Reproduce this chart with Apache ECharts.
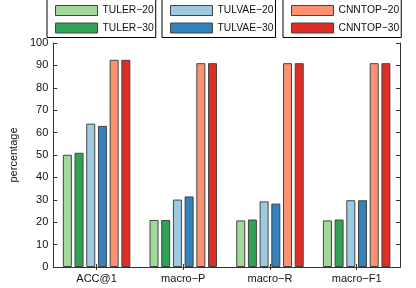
<!DOCTYPE html>
<html><head><meta charset="utf-8">
<script src="https://cdn.jsdelivr.net/npm/echarts@6/dist/echarts.min.js"></script>
<style>html,body{margin:0;padding:0;background:#fff}#c{width:416px;height:288px}</style>
</head><body><div id="c"></div>
<script>
var categories = ['ACC@1', 'macro\u2212P', 'macro\u2212R', 'macro\u2212F1'];
var seriesNames = ['TULER\u221220', 'TULER\u221230', 'TULVAE\u221220', 'TULVAE\u221230', 'CNNTOP\u221220', 'CNNTOP\u221230'];
var tulerA = [50.1, 21.0, 20.8, 20.8];
var tulerB = [51.0, 21.0, 21.2, 21.2];
var tulvaeA = [64.0, 30.1, 29.3, 29.8];
var tulvaeB = [63.0, 31.5, 28.3, 29.8];
var cnntopA = [92.5, 91.0, 91.0, 91.0];
var cnntopB = [92.5, 91.0, 91.0, 91.0];
var yTicks = { min: 0, max: 100, interval: 10 };

var colors = ['#a1d99b', '#31a354', '#9ecae1', '#3182bd', '#fc9272', '#de2d26'];
var values = [tulerA, tulerB, tulvaeA, tulvaeB, cnntopA, cnntopB];
var axisColor = '#333';
var font = 'Liberation Sans, Arial, sans-serif';

function legend(left, names) {
  return {
    left: left, top: -2, orient: 'vertical', data: names,
    padding: [7, 2, 4, 8], itemGap: 6.5, itemWidth: 42, itemHeight: 10,
    borderColor: '#000', borderWidth: 1, borderRadius: 0,
    icon: 'rect',
    itemStyle: { borderColor: '#444', borderWidth: 1 },
    textStyle: { fontFamily: font, fontSize: 10.3, color: '#111', padding: [0, 0, 0, 0] }
  };
}

var chart = echarts.init(document.getElementById('c'), null, { renderer: 'canvas' });
chart.setOption({
  animation: false,
  backgroundColor: '#fff',
  grid: { left: 47, right: 16, top: 43, bottom: 21, containLabel: false },
  legend: [
    legend(47, seriesNames.slice(0, 2)),
    legend(162, seriesNames.slice(2, 4)),
    legend(283, seriesNames.slice(4, 6))
  ],
  xAxis: [{
    type: 'category', data: categories, position: 'bottom',
    axisLine: { lineStyle: { color: axisColor, width: 1 } },
    axisTick: { show: true, inside: true, alignWithLabel: true, length: 3, lineStyle: { color: axisColor } },
    axisLabel: { fontFamily: font, fontSize: 11, color: '#111', margin: 6 },
    z: 10
  }, {
    type: 'category', data: categories, position: 'top',
    axisLine: { lineStyle: { color: axisColor, width: 1 } },
    axisTick: { show: true, inside: true, alignWithLabel: true, length: 3, lineStyle: { color: axisColor } },
    axisLabel: { show: false }
  }],
  yAxis: [{
    type: 'value', min: yTicks.min, max: yTicks.max, interval: yTicks.interval, position: 'left',
    name: 'percentage', nameLocation: 'middle', nameGap: 34, nameRotate: 90,
    nameTextStyle: { fontFamily: font, fontSize: 11, color: '#111' },
    axisLine: { show: true, lineStyle: { color: axisColor, width: 1 } },
    axisTick: { show: true, inside: true, length: 4, lineStyle: { color: axisColor } },
    axisLabel: { fontFamily: font, fontSize: 11, color: '#111', margin: 5 },
    splitLine: { show: false }
  }, {
    type: 'value', min: yTicks.min, max: yTicks.max, interval: yTicks.interval, position: 'right',
    axisLine: { show: true, lineStyle: { color: axisColor, width: 1 } },
    axisTick: { show: true, inside: true, length: 4, lineStyle: { color: axisColor } },
    axisLabel: { show: false },
    splitLine: { show: false }
  }],
  series: seriesNames.map(function (n, i) {
    return {
      name: n, type: 'bar', data: values[i], xAxisIndex: 0, yAxisIndex: 0,
      barWidth: 9, barGap: '30%',
      itemStyle: { color: colors[i], borderColor: '#444', borderWidth: 1 }
    };
  })
});
</script></body></html>
